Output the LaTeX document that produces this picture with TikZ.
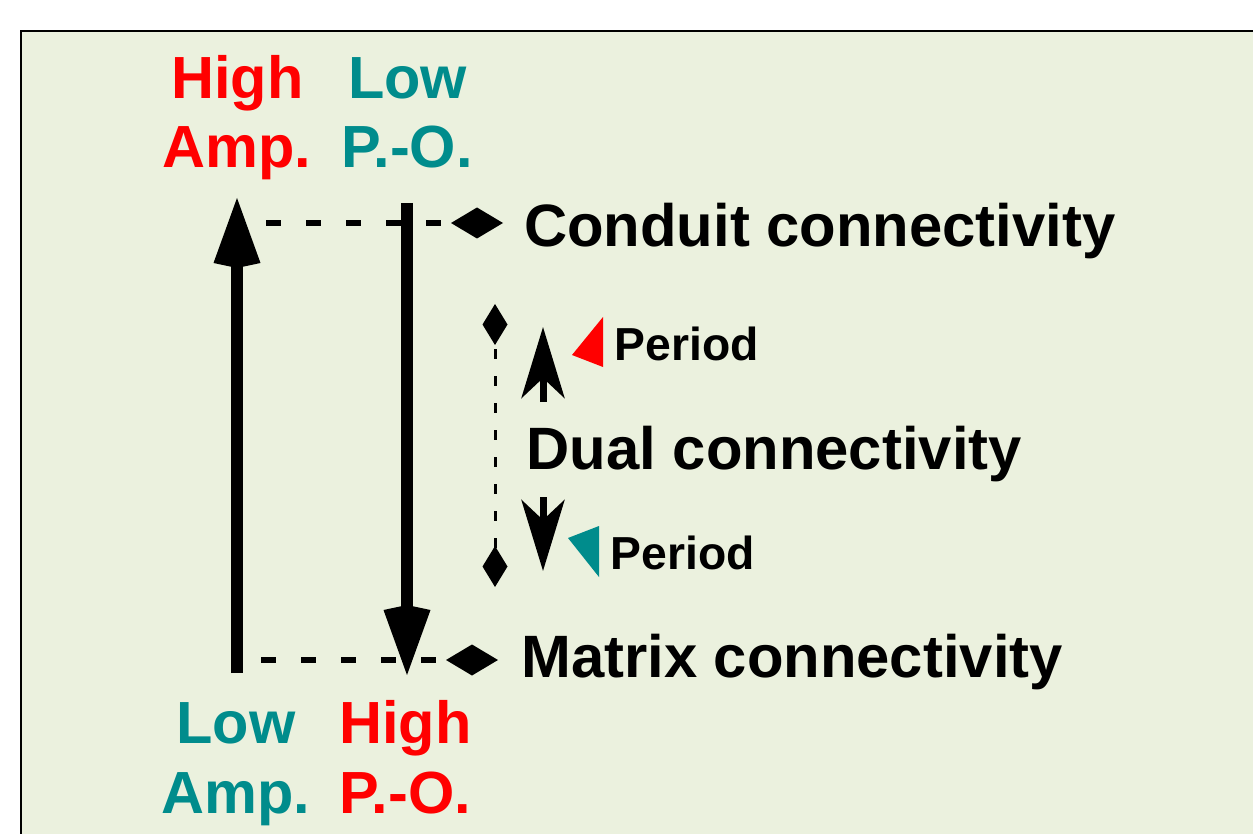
\documentclass[tikz,border=0pt]{standalone}
\usepackage{fontspec}
\setmainfont{Liberation Sans}
\usetikzlibrary{arrows.meta}
\definecolor{bg}{RGB}{235,241,222}
\definecolor{hired}{RGB}{255,0,0}
\definecolor{tealc}{RGB}{0,140,140}
\begin{document}
\begin{tikzpicture}[x=1pt,y=-1pt,
  big/.style={font=\bfseries\fontsize{59.5}{69}\selectfont, inner sep=0pt, anchor=base},
  lbl/.style={font=\bfseries\fontsize{59.8}{69}\selectfont, inner sep=0pt, anchor=base west},
  smalltxt/.style={font=\bfseries\fontsize{46.3}{50}\selectfont, inner sep=0pt, anchor=base west},
  bigarrow/.style={line width=12pt, -{Kite[length=70pt,width=47pt,inset=5pt]}},
  smallarrow/.style={line width=7pt, -{Stealth[length=71pt,width=43pt,inset=20pt]}},
  levelline/.style={line width=6pt, dash pattern=on 15pt off 25pt, -{Diamond[length=52pt,width=31pt]}},
  dualline/.style={line width=3pt, dash pattern=on 10pt off 17pt, dash phase=20pt,
    {Diamond[length=41pt,width=25pt]}-{Diamond[length=41pt,width=25pt]}}
]
\useasboundingbox (0,0) rectangle (1253,834);
\clip (0,0) rectangle (1253,834);
\fill[white] (0,0) rectangle (1253,834);
\draw[line width=2pt, fill=bg] (21,31) rectangle (1275,860);

% labels
\node[big, text=hired] (hiampA) at (237.5,99) {High};
\node[big, text=hired] (hiampB) at (237,168) {Amp.};
\node[big, text=tealc] (lopoA) at (407.5,99) {Low};
\node[big, text=tealc] (lopoB) at (407,168) {P.-O.};
\node[big, text=tealc] (loampA) at (236,743) {Low};
\node[big, text=tealc] (loampB) at (236,813) {Amp.};
\node[big, text=hired] (hipoA) at (405.5,743) {High};
\node[big, text=hired] (hipoB) at (405.5,813) {P.-O.};

\node[lbl] (conduit) at (524,247) {Conduit connectivity};
\node[lbl] (dual) at (526.5,469) {Dual connectivity};
\node[lbl] (matrix) at (521,677) {Matrix connectivity};
\node[smalltxt] (per1) at (614.5,360) {Period};
\node[smalltxt] (per2) at (610.5,569) {Period};

% coordinates
\coordinate (ct0) at (266,223);
\coordinate (ct1) at (503,223);
\coordinate (mt0) at (261,660);
\coordinate (mt1) at (498,660);
\coordinate (ubot) at (237,673);
\coordinate (utop) at (237,198);
\coordinate (dtop) at (407,203);
\coordinate (dbot) at (407,675);
\coordinate (dl0) at (495,304);
\coordinate (dl1) at (495,587);
\coordinate (sa0) at (543,402);
\coordinate (sa1) at (543,327);
\coordinate (sb0) at (543,497);
\coordinate (sb1) at (543,571);

% connectors
\draw[levelline] (ct0) -- (ct1);
\draw[levelline] (mt0) -- (mt1);
\draw[bigarrow] (ubot) -- (utop);
\draw[bigarrow] (dtop) -- (dbot);
\draw[dualline] (dl0) -- (dl1);
\draw[smallarrow] (sa0) -- (sa1);
\draw[smallarrow] (sb0) -- (sb1);

% markers
\fill[hired] (603,317) -- (572,355) -- (603,367) -- cycle;
\fill[tealc] (599,526) -- (568,538) -- (599,577) -- cycle;
\end{tikzpicture}
\end{document}
